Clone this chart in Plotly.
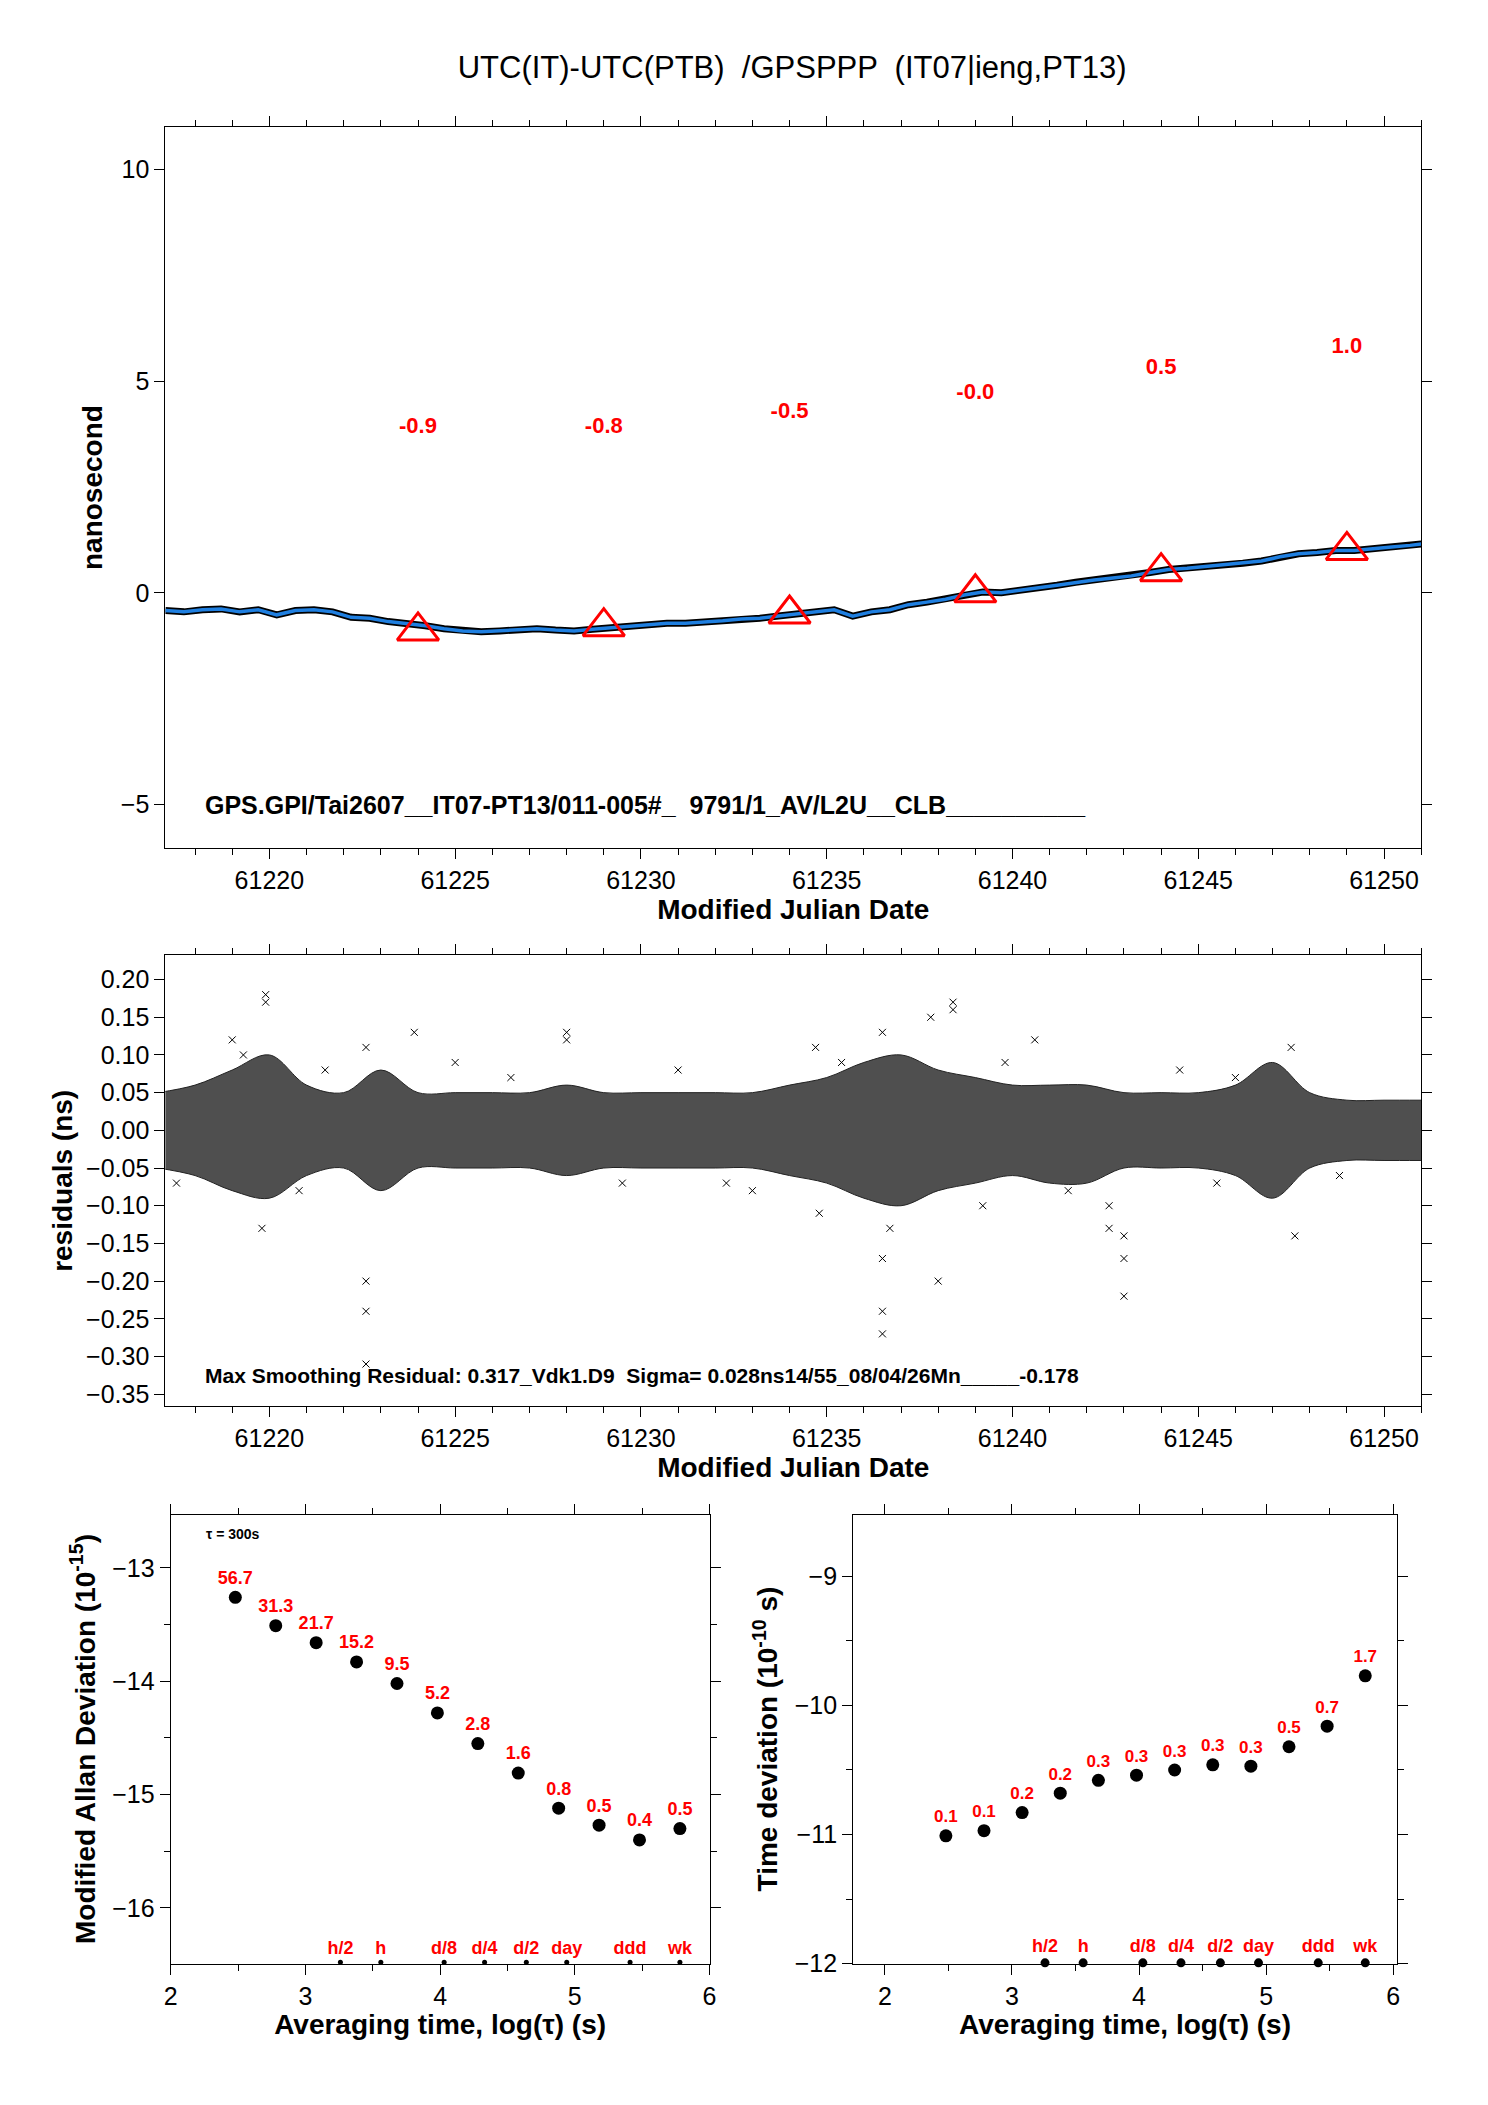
import plotly.graph_objects as go

# ---------------- data ----------------
mjd_smooth = [61217.2,61217.7,61218.2,61218.7,61219.2,61219.7,61220.2,61220.7,61221.2,61221.7,61222.2,61222.7,
              61223.2,61223.7,61224.2,61224.7,61225.2,61225.7,61226.2,61226.7,61227.2,61227.7,61228.2,61228.7,
              61229.2,61229.7,61230.2,61230.7,61231.2,61231.7,61232.2,61232.7,61233.2,61233.7,61234.2,61234.7,
              61235.2,61235.7,61236.2,61236.7,61237.2,61237.7,61238.2,61238.7,61239.2,61239.7,61240.2,61240.7,
              61241.2,61241.7,61242.2,61242.7,61243.2,61243.7,61244.2,61244.7,61245.2,61245.7,61246.2,61246.7,
              61247.2,61247.7,61248.2,61248.7,61249.2,61249.7,61250.2,61250.7,61251.0]
ns_smooth = [-0.42,-0.45,-0.40,-0.38,-0.45,-0.40,-0.52,-0.42,-0.40,-0.45,-0.58,-0.60,
             -0.68,-0.72,-0.78,-0.85,-0.90,-0.92,-0.90,-0.88,-0.85,-0.88,-0.90,-0.86,
             -0.82,-0.80,-0.76,-0.72,-0.72,-0.70,-0.66,-0.62,-0.60,-0.55,-0.50,-0.45,
             -0.40,-0.55,-0.45,-0.40,-0.28,-0.22,-0.15,-0.05,0.02,0.00,0.05,0.12,
             0.18,0.25,0.30,0.35,0.40,0.48,0.55,0.58,0.62,0.66,0.70,0.75,
             0.85,0.92,0.95,1.00,1.00,1.05,1.08,1.12,1.15]
tri_mjd = [61224, 61229, 61234, 61239, 61244, 61249]
tri_val = [-0.9, -0.8, -0.5, -0.0, 0.5, 1.0]
tri_lab = ["-0.9", "-0.8", "-0.5", "-0.0", "0.5", "1.0"]
tri_lab_y = [3.9, 3.9, 4.25, 4.7, 5.3, 5.8]

env_mjd = list(range(61217, 61252))
env_up = [0.05,0.06,0.08,0.10,0.06,0.05,0.08,0.05,0.05,0.05,0.05,0.06,0.05,0.05,0.05,0.05,0.05,0.06,
          0.07,0.09,0.10,0.08,0.07,0.06,0.06,0.06,0.05,0.05,0.05,0.06,0.09,0.05,0.04,0.04,0.04]
env_lo = [-0.05,-0.06,-0.08,-0.09,-0.06,-0.05,-0.08,-0.05,-0.05,-0.05,-0.05,-0.06,-0.05,-0.05,-0.05,-0.05,-0.05,-0.06,
          -0.07,-0.09,-0.10,-0.08,-0.07,-0.06,-0.07,-0.07,-0.05,-0.05,-0.05,-0.06,-0.09,-0.05,-0.04,-0.04,-0.04]
out_mjd = [61219.0,61219.9,61219.9,61219.8,61222.6,61222.6,61222.6,61222.6,61223.9,61228.0,61228.0,61234.7,
           61234.8,61236.5,61236.5,61236.5,61236.5,61236.7,61237.8,61238.0,61238.4,61238.4,61239.2,61240.6,
           61242.6,61242.6,61243.0,61243.0,61243.0,61247.5,61247.6,61244.5,61217.5,61225.0,61231.0,61233.0,
           61245.5,61219.3,61220.8,61226.5,61229.5,61235.4,61241.5,61246.0,61248.8,61221.5,61232.3,61239.8]
out_val = [0.12,0.18,0.17,-0.13,-0.20,-0.24,-0.31,0.11,0.13,0.13,0.12,0.11,
           -0.11,0.13,-0.17,-0.24,-0.27,-0.13,0.15,-0.20,0.17,0.16,-0.10,0.12,
           -0.10,-0.13,-0.14,-0.17,-0.22,0.11,-0.14,0.08,-0.07,0.09,0.08,-0.08,
           -0.07,0.10,-0.08,0.07,-0.07,0.09,-0.08,0.07,-0.06,0.08,-0.07,0.09]

log_tau = [2.48,2.78,3.08,3.38,3.68,3.98,4.28,4.58,4.88,5.18,5.48,5.78]
mdev = [-13.26,-13.51,-13.66,-13.83,-14.02,-14.28,-14.55,-14.81,-15.12,-15.27,-15.40,-15.30]
mdev_lab = ["56.7","31.3","21.7","15.2","9.5","5.2","2.8","1.6","0.8","0.5","0.4","0.5"]
tdev = [-11.01,-10.97,-10.83,-10.68,-10.58,-10.54,-10.50,-10.46,-10.47,-10.32,-10.16,-9.77]
tdev_lab = ["0.1","0.1","0.2","0.2","0.3","0.3","0.3","0.3","0.3","0.5","0.7","1.7"]
mark_x = [3.26,3.56,4.03,4.33,4.64,4.94,5.41,5.78]
mark_lab = ["h/2","h","d/8","d/4","d/2","day","ddd","wk"]

FONT = "Liberation Sans"
fig = go.Figure()

# top panel
fig.add_trace(go.Scatter(x=mjd_smooth, y=ns_smooth, mode="lines", line=dict(color="black", width=7),
                         xaxis="x", yaxis="y", showlegend=False))
fig.add_trace(go.Scatter(x=mjd_smooth, y=ns_smooth, mode="lines", line=dict(color="#1f7fe0", width=3.5),
                         xaxis="x", yaxis="y", showlegend=False))
fig.add_trace(go.Scatter(x=tri_mjd, y=tri_val, mode="markers",
                         marker=dict(symbol="triangle-up-open", size=36, color="red", line=dict(width=3, color="red")),
                         xaxis="x", yaxis="y", showlegend=False))
fig.add_trace(go.Scatter(x=tri_mjd, y=tri_lab_y, mode="text", text=tri_lab,
                         textfont=dict(family=FONT, size=22, color="red", weight="bold"),
                         xaxis="x", yaxis="y", showlegend=False))

# residual panel
fig.add_trace(go.Scatter(x=env_mjd, y=env_up, mode="lines", line=dict(color="#222", width=1, shape="spline"),
                         xaxis="x2", yaxis="y2", showlegend=False))
fig.add_trace(go.Scatter(x=env_mjd, y=env_lo, mode="lines", line=dict(color="#222", width=1, shape="spline"),
                         fill="tonexty", fillcolor="rgba(20,20,20,0.75)", xaxis="x2", yaxis="y2", showlegend=False))
fig.add_trace(go.Scatter(x=out_mjd, y=out_val, mode="markers",
                         marker=dict(symbol="x-thin", size=7, color="black", line=dict(color="black", width=1)),
                         xaxis="x2", yaxis="y2", showlegend=False))

# bottom left
fig.add_trace(go.Scatter(x=log_tau, y=mdev, mode="markers+text", text=mdev_lab, textposition="top center",
                         marker=dict(color="black", size=13),
                         textfont=dict(family=FONT, size=18, color="red", weight="bold"),
                         xaxis="x3", yaxis="y3", showlegend=False))
fig.add_trace(go.Scatter(x=mark_x, y=[-16.48]*len(mark_x), mode="markers+text", text=mark_lab,
                         textposition="top center", marker=dict(color="black", size=5),
                         textfont=dict(family=FONT, size=18, color="red", weight="bold"),
                         xaxis="x3", yaxis="y3", showlegend=False, cliponaxis=False))
# bottom right
fig.add_trace(go.Scatter(x=log_tau, y=tdev, mode="markers+text", text=tdev_lab, textposition="top center",
                         marker=dict(color="black", size=13),
                         textfont=dict(family=FONT, size=17, color="red", weight="bold"),
                         xaxis="x4", yaxis="y4", showlegend=False))
fig.add_trace(go.Scatter(x=mark_x, y=[-11.995]*len(mark_x), mode="markers+text", text=mark_lab,
                         textposition="top center", marker=dict(color="black", size=9),
                         textfont=dict(family=FONT, size=18, color="red", weight="bold"),
                         xaxis="x4", yaxis="y4", showlegend=False, cliponaxis=False))

tickfont = dict(family=FONT, size=25, color="black")
titlefont = dict(family=FONT, size=28, color="black", weight="bold")
common = dict(showgrid=False, zeroline=False, showline=True, linecolor="black", linewidth=1,
              mirror="ticks", ticks="outside", tickcolor="black", ticklen=10, tickfont=tickfont)

mjd_minor = dict(minor=dict(dtick=1, ticks="outside", ticklen=6, tickcolor="black"))
DX = -0.008
DY = 0.003
def sx(a, b): return [a + DX, b + DX]
def sy(a, b): return [a + DY, b + DY]
fig.update_layout(
    width=1488, height=2105, margin=dict(l=0, r=0, t=0, b=0),
    paper_bgcolor="white", plot_bgcolor="white",
    title=dict(text="UTC(IT)-UTC(PTB)  /GPSPPP  (IT07|ieng,PT13)", x=0.527, y=0.977, xanchor="center",
               font=dict(family=FONT, size=31, color="black")),
    xaxis=dict(**common, **mjd_minor, domain=sx(0.110, 0.962), range=[61217.2, 61251], dtick=5, tick0=61220,
               tickformat="d", anchor="y",
               title=dict(text="Modified Julian Date", font=titlefont, standoff=2)),
    yaxis=dict(**common, domain=sy(0.5952, 0.9401), range=[-6.03, 11.0], dtick=5, anchor="x",
               title=dict(text="nanosecond", font=titlefont, standoff=10)),
    xaxis2=dict(**common, **mjd_minor, domain=sx(0.110, 0.962), range=[61217.2, 61251], dtick=5, tick0=61220,
                tickformat="d", anchor="y2",
                title=dict(text="Modified Julian Date", font=titlefont, standoff=2)),
    yaxis2=dict(**common, domain=sy(0.3283, 0.5439), range=[-0.366, 0.232], dtick=0.05, tickformat=".2f",
                anchor="x2", title=dict(text="residuals (ns)", font=titlefont, standoff=5)),
    xaxis3=dict(**common, domain=sx(0.1136, 0.4792), range=[2, 6], dtick=1, anchor="y3",
                minor=dict(dtick=0.5, ticks="outside", ticklen=6, tickcolor="black"),
                title=dict(text="Averaging time, log(τ) (s)", font=titlefont, standoff=2)),
    yaxis3=dict(**common, domain=sy(0.0618, 0.2765), range=[-16.49, -12.53], dtick=1, anchor="x3",
                minor=dict(dtick=0.5, ticks="outside", ticklen=6, tickcolor="black"),
                title=dict(text="Modified Allan Deviation (10<sup>-15</sup>)", font=titlefont, standoff=8)),
    xaxis4=dict(**common, domain=sx(0.5766, 0.9456), range=[1.75, 6.03], dtick=1, anchor="y4",
                minor=dict(dtick=0.5, ticks="outside", ticklen=6, tickcolor="black"),
                title=dict(text="Averaging time, log(τ) (s)", font=titlefont, standoff=2)),
    yaxis4=dict(**common, domain=sy(0.0618, 0.2765), range=[-12, -8.52], dtick=1, anchor="x4",
                minor=dict(dtick=0.5, ticks="outside", ticklen=6, tickcolor="black"),
                title=dict(text="Time deviation (10<sup>-10</sup> s)", font=titlefont, standoff=8)),
    annotations=[
        dict(text="GPS.GPI/Tai2607__IT07-PT13/011-005#_  9791/1_AV/L2U__CLB__________", x=61218.2, y=-5.0,
             xref="x", yref="y", xanchor="left", showarrow=False,
             font=dict(family=FONT, size=25, color="black", weight="bold")),
        dict(text="Max Smoothing Residual: 0.317_Vdk1.D9  Sigma= 0.028ns14/55_08/04/26Mn_____-0.178",
             x=61218.2, y=-0.325, xref="x2", yref="y2", xanchor="left", showarrow=False,
             font=dict(family=FONT, size=21, color="black", weight="bold")),
        dict(text="τ = 300s", x=2.25, y=-12.7, xref="x3", yref="y3", xanchor="left", showarrow=False,
             font=dict(family=FONT, size=14, color="black", weight="bold")),
    ],
)
fig.write_html("out.html")
